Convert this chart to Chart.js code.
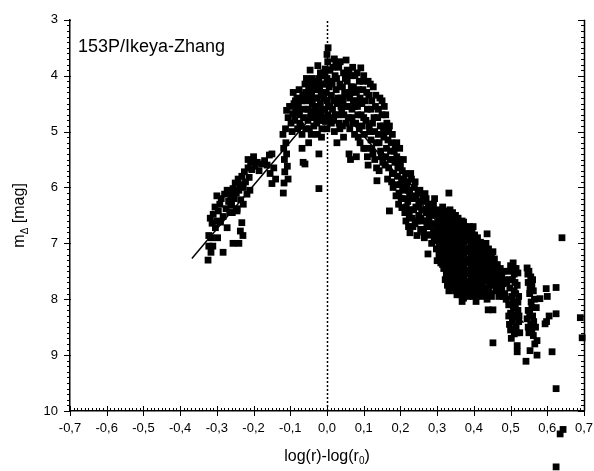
<!DOCTYPE html>
<html>
<head>
<meta charset="utf-8">
<script src="https://cdn.jsdelivr.net/npm/chart.js@4.4.1/dist/chart.umd.min.js"></script>
<style>
  html, body { margin: 0; padding: 0; background: #fff; }
  #wrap { width: 594px; height: 471px; position: relative; }
</style>
</head>
<body>
<div id="wrap"><canvas id="grafico"></canvas></div>
<script>
// Observaciones [log(r)-log(r0), m_delta]
const alaIzq = [
  [-0.324, 7.30], [-0.316, 7.16], [-0.322, 7.05], [-0.311, 7.05], [-0.322, 6.86], [-0.313, 6.64],
  [-0.318, 6.55], [-0.310, 6.48], [-0.304, 6.72], [-0.298, 6.90], [-0.283, 7.16], [-0.256, 7.00],
  [-0.240, 7.00], [-0.229, 6.86], [-0.232, 6.63], [-0.236, 6.78], [-0.305, 6.35], [-0.300, 6.60],
  [-0.315, 6.90], [-0.296, 6.42], [-0.292, 6.30], [-0.288, 6.20], [-0.283, 6.52], [-0.279, 6.12],
  [-0.275, 6.38], [-0.272, 6.05], [-0.268, 6.25], [-0.265, 6.45], [-0.262, 6.15], [-0.260, 6.32],
  [-0.256, 6.02], [-0.253, 6.20], [-0.250, 5.92], [-0.247, 6.10], [-0.245, 6.38], [-0.242, 5.85],
  [-0.240, 6.05], [-0.237, 5.95], [-0.235, 6.22], [-0.232, 5.80], [-0.228, 6.00], [-0.225, 5.72],
  [-0.222, 5.90], [-0.218, 6.12], [-0.215, 5.65], [-0.212, 5.82], [-0.208, 5.55], [-0.205, 5.68],
  [-0.200, 5.45], [-0.196, 5.62], [-0.190, 5.55], [-0.185, 5.70], [-0.178, 5.58], [-0.170, 5.52],
  [-0.163, 5.60], [-0.157, 5.42], [-0.150, 5.40], [-0.155, 5.75], [-0.150, 5.93], [-0.145, 5.65],
  [-0.140, 5.85], [-0.265, 6.10], [-0.262, 6.30], [-0.258, 6.45], [-0.245, 6.42], [-0.215, 5.50],
  [-0.290, 6.62], [-0.272, 6.72], [-0.300, 6.15], [-0.228, 6.30], [-0.210, 6.05]
];

const pico = [
  [-0.120, 5.05], [-0.118, 5.30], [-0.116, 5.50], [-0.115, 5.72], [-0.117, 5.92], [-0.119, 6.10],
  [-0.112, 5.20], [-0.110, 5.40], [-0.108, 5.62], [-0.106, 5.85], [-0.113, 4.95], [-0.110, 4.62],
  [-0.106, 4.75], [-0.102, 4.55], [-0.098, 4.85], [-0.095, 5.00], [-0.093, 4.68], [-0.090, 4.50],
  [-0.088, 4.80], [-0.085, 4.62], [-0.082, 4.40], [-0.078, 4.55], [-0.075, 4.70], [-0.072, 4.90],
  [-0.068, 5.30], [-0.068, 5.05], [-0.065, 5.55], [-0.060, 5.58], [-0.062, 4.60], [-0.058, 4.30],
  [-0.055, 4.45], [-0.052, 4.80], [-0.050, 5.20], [-0.052, 4.60], [-0.048, 4.95], [-0.045, 4.15],
  [-0.060, 4.15], [-0.046, 3.90], [-0.042, 4.30], [-0.040, 4.50], [-0.038, 4.70], [-0.036, 4.90],
  [-0.035, 4.10], [-0.032, 4.40], [-0.030, 4.60], [-0.028, 4.85], [-0.026, 5.05], [-0.025, 3.82],
  [-0.022, 4.05], [-0.020, 4.25], [-0.018, 4.50], [-0.016, 4.70], [-0.014, 4.95], [-0.022, 5.40],
  [-0.022, 6.02], [-0.012, 4.15], [-0.010, 3.95], [-0.008, 4.40], [-0.006, 4.60], [-0.004, 4.82],
  [-0.002, 4.30], [0.000, 4.05], [0.003, 3.50], [0.000, 3.62], [0.002, 3.75], [0.004, 4.55],
  [0.006, 4.20], [-0.015, 5.10], [-0.005, 3.88], [-0.040, 4.05], [-0.030, 4.25], [-0.012, 4.35],
  [-0.008, 4.75], [0.000, 4.95], [-0.070, 4.45], [-0.080, 4.95], [-0.044, 4.65], [-0.020, 4.80],
  [0.008, 3.90], [0.010, 4.10], [0.012, 4.35], [0.015, 4.60], [0.018, 4.80], [0.020, 3.70],
  [0.022, 4.00], [0.025, 4.25], [0.027, 5.20], [0.028, 4.50], [0.030, 4.70], [0.032, 3.85],
  [0.035, 4.15], [0.038, 4.40], [0.040, 4.62], [0.042, 4.90], [0.045, 3.95], [0.048, 4.30],
  [0.050, 4.55], [0.052, 3.72], [0.055, 4.10], [0.058, 4.75], [0.060, 5.40], [0.062, 4.40],
  [0.064, 5.50], [0.066, 4.00], [0.068, 4.60], [0.070, 4.85], [0.072, 4.20], [0.075, 5.05],
  [0.078, 4.45], [0.080, 5.45], [0.082, 3.95], [0.084, 4.70], [0.086, 4.25], [0.088, 4.95],
  [0.090, 5.20], [0.092, 3.86], [0.095, 4.50], [0.098, 4.10], [0.100, 4.75], [0.012, 4.85],
  [0.020, 5.00], [0.035, 4.95], [0.045, 5.10], [0.055, 3.90], [0.065, 4.30], [0.075, 4.55]
];

const picoDenso = [
  [-0.092, 4.30], [-0.086, 4.45], [-0.080, 4.65], [-0.076, 4.25], [-0.074, 4.85], [-0.066, 4.35],
  [-0.064, 4.75], [-0.058, 4.95], [-0.056, 4.05], [-0.050, 4.25], [-0.048, 4.40], [-0.046, 4.75],
  [-0.043, 5.05], [-0.038, 4.20], [-0.034, 4.55], [-0.033, 4.75], [-0.028, 4.15], [-0.026, 4.40],
  [-0.024, 4.65], [-0.018, 3.95], [-0.016, 4.35], [-0.012, 4.60], [-0.010, 4.80], [-0.006, 4.00],
  [-0.004, 4.15], [0.000, 4.45], [0.002, 4.70], [0.004, 3.90], [0.008, 4.55], [0.010, 4.75],
  [0.014, 4.15], [0.016, 3.85], [0.018, 4.45], [0.022, 4.70], [0.024, 3.80], [0.026, 4.05],
  [0.030, 4.40], [0.033, 4.85], [0.036, 3.75], [0.038, 4.55], [0.042, 4.20], [0.044, 4.45],
  [0.046, 4.70], [0.050, 4.05], [0.052, 4.85], [0.055, 4.35], [0.058, 4.55], [0.060, 3.95],
  [0.062, 4.95], [0.066, 4.20], [0.068, 4.75], [0.070, 3.85], [0.072, 4.45], [0.076, 4.00],
  [0.078, 4.85], [0.080, 4.30], [0.083, 4.55], [0.085, 5.10], [0.088, 4.10], [0.090, 4.40],
  [0.093, 4.70], [0.096, 4.90], [0.098, 4.25], [0.100, 5.30], [0.100, 4.00]
];

const alaDer = [
  [0.102, 5.05], [0.105, 5.30], [0.108, 4.30], [0.110, 4.60], [0.112, 5.60], [0.115, 4.90],
  [0.118, 4.15], [0.120, 5.15], [0.122, 4.45], [0.125, 5.40], [0.128, 4.75], [0.130, 5.00],
  [0.133, 4.35], [0.135, 5.65], [0.136, 5.88], [0.140, 4.60], [0.142, 5.20], [0.145, 4.90],
  [0.148, 5.45], [0.150, 4.45], [0.153, 4.90], [0.155, 5.10], [0.158, 5.60], [0.160, 4.70],
  [0.162, 5.30], [0.165, 5.85], [0.168, 5.00], [0.170, 6.42], [0.172, 5.50], [0.175, 5.20],
  [0.178, 5.75], [0.180, 6.00], [0.183, 5.35], [0.185, 5.55], [0.188, 6.15], [0.190, 5.20],
  [0.192, 5.80], [0.195, 6.30], [0.197, 5.50], [0.200, 5.95], [0.202, 6.20], [0.204, 6.36],
  [0.205, 5.70], [0.208, 6.05], [0.210, 5.85], [0.212, 6.45], [0.215, 6.60], [0.218, 5.95],
  [0.220, 6.25], [0.222, 6.70], [0.225, 6.10], [0.226, 6.81], [0.228, 6.40], [0.230, 5.85],
  [0.232, 6.55], [0.235, 6.20], [0.238, 6.00], [0.240, 6.65], [0.242, 6.35], [0.245, 6.86],
  [0.248, 6.10], [0.250, 6.50], [0.252, 6.25], [0.255, 6.75], [0.258, 6.40], [0.260, 6.60],
  [0.262, 6.15], [0.265, 6.90], [0.267, 6.11], [0.270, 6.45], [0.272, 6.70], [0.275, 7.19],
  [0.276, 6.30], [0.278, 6.55], [0.280, 6.85], [0.283, 6.40], [0.285, 7.00], [0.288, 6.65],
  [0.290, 6.30], [0.292, 6.90], [0.295, 6.50], [0.298, 7.10], [0.300, 7.31], [0.300, 6.75],
  [0.104, 4.45], [0.106, 4.80], [0.110, 5.45], [0.112, 4.10], [0.114, 4.35], [0.116, 5.00],
  [0.120, 4.60], [0.122, 5.30], [0.124, 4.85], [0.126, 4.20], [0.130, 5.50], [0.132, 4.55],
  [0.134, 5.20], [0.138, 4.75], [0.140, 5.05], [0.142, 5.70], [0.144, 4.40], [0.146, 5.35],
  [0.150, 4.70], [0.152, 5.55], [0.154, 5.00], [0.156, 4.55], [0.160, 5.45], [0.163, 4.85],
  [0.166, 5.15], [0.168, 5.65], [0.170, 4.90], [0.173, 5.35], [0.176, 5.90], [0.178, 5.05],
  [0.180, 5.50], [0.182, 5.75], [0.186, 5.25], [0.188, 5.95], [0.190, 5.45], [0.193, 5.65],
  [0.196, 6.10], [0.198, 5.30], [0.200, 5.60], [0.203, 5.85], [0.206, 6.00], [0.208, 5.50],
  [0.212, 6.20], [0.214, 5.75], [0.216, 6.35], [0.220, 5.90], [0.222, 6.05], [0.224, 6.50],
  [0.228, 5.75], [0.230, 6.20], [0.234, 6.70], [0.236, 6.40], [0.240, 5.90], [0.243, 6.15],
  [0.246, 6.60], [0.250, 6.30], [0.253, 6.05], [0.256, 6.55], [0.260, 6.25], [0.263, 6.80],
  [0.266, 6.40], [0.270, 6.20], [0.273, 6.60], [0.276, 6.85], [0.280, 6.30], [0.282, 6.70],
  [0.286, 6.45], [0.290, 6.80], [0.293, 6.20], [0.296, 6.65], [0.300, 6.40], [0.300, 6.95]
];

const cola = [
  [0.305, 6.60], [0.305, 6.85], [0.305, 7.05], [0.305, 7.20],
  [0.310, 6.45], [0.310, 6.70], [0.310, 6.95], [0.310, 7.15], [0.310, 7.35],
  [0.318, 6.55], [0.318, 6.80], [0.318, 7.00], [0.318, 7.25], [0.318, 7.45],
  [0.325, 6.50], [0.325, 6.65], [0.325, 6.90], [0.325, 7.10], [0.325, 7.30], [0.325, 7.55],
  [0.332, 6.10], [0.332, 6.60], [0.332, 6.75], [0.332, 7.00], [0.332, 7.20], [0.332, 7.40], [0.332, 7.65], [0.332, 7.85],
  [0.338, 6.50], [0.338, 6.70], [0.338, 6.90], [0.338, 7.10], [0.338, 7.30], [0.338, 7.50], [0.338, 7.70],
  [0.345, 6.55], [0.345, 6.80], [0.345, 7.00], [0.345, 7.20], [0.345, 7.45], [0.345, 7.60], [0.345, 7.80],
  [0.354, 6.60], [0.354, 6.75], [0.354, 6.95], [0.354, 7.15], [0.354, 7.35], [0.354, 7.55], [0.354, 7.75], [0.354, 7.92],
  [0.360, 6.65], [0.360, 6.90], [0.360, 7.05], [0.360, 7.25], [0.360, 7.45], [0.360, 7.65], [0.360, 7.85],
  [0.368, 6.60], [0.368, 6.80], [0.368, 7.00], [0.368, 7.20], [0.368, 7.40], [0.368, 7.60], [0.368, 7.80], [0.368, 8.04],
  [0.376, 6.70], [0.376, 6.85], [0.376, 7.10], [0.376, 7.30], [0.376, 7.50], [0.376, 7.70], [0.376, 7.90],
  [0.384, 6.75], [0.384, 6.95], [0.384, 7.15], [0.384, 7.35], [0.384, 7.55], [0.384, 7.75], [0.384, 7.95],
  [0.392, 6.80], [0.392, 7.00], [0.392, 7.20], [0.392, 7.40], [0.392, 7.60], [0.392, 7.80],
  [0.398, 6.70], [0.398, 6.90], [0.398, 7.10], [0.398, 7.30], [0.398, 7.50], [0.398, 7.70], [0.398, 7.95],
  [0.406, 6.95], [0.406, 7.15], [0.406, 7.35], [0.406, 7.55], [0.406, 7.75], [0.406, 8.04],
  [0.414, 7.00], [0.414, 7.20], [0.414, 7.45], [0.414, 7.65], [0.414, 7.85],
  [0.422, 7.05], [0.422, 7.25], [0.422, 7.50], [0.422, 7.70], [0.422, 7.95],
  [0.430, 7.10], [0.430, 7.30], [0.430, 7.55], [0.430, 7.80],
  [0.436, 6.83], [0.436, 7.20], [0.436, 7.40], [0.436, 7.60], [0.436, 8.00],
  [0.444, 7.25], [0.444, 7.45], [0.444, 7.70], [0.444, 7.90],
  [0.452, 7.15], [0.452, 7.35], [0.452, 7.60], [0.452, 8.19], [0.452, 8.78], [0.439, 8.19],
  [0.460, 7.40], [0.460, 7.65], [0.460, 7.85], [0.468, 7.50], [0.468, 7.75], [0.468, 7.95],
  [0.476, 7.60], [0.476, 7.80], [0.484, 7.65], [0.484, 7.90]
];

const colaDensa = [
  [0.308, 6.55], [0.308, 6.78], [0.308, 7.00], [0.308, 7.28],
  [0.315, 6.35], [0.315, 6.62], [0.315, 6.88], [0.315, 7.10], [0.315, 7.38],
  [0.322, 6.42], [0.322, 6.75], [0.322, 7.00], [0.322, 7.20], [0.322, 7.42], [0.322, 7.65],
  [0.328, 6.55], [0.328, 6.82], [0.328, 7.05], [0.328, 7.25], [0.328, 7.48], [0.328, 7.75],
  [0.335, 6.40], [0.335, 6.65], [0.335, 6.88], [0.335, 7.10], [0.335, 7.30], [0.335, 7.55], [0.335, 7.78],
  [0.342, 6.45], [0.342, 6.62], [0.342, 6.90], [0.342, 7.12], [0.342, 7.35], [0.342, 7.55], [0.342, 7.72],
  [0.350, 6.50], [0.350, 6.70], [0.350, 6.90], [0.350, 7.08], [0.350, 7.28], [0.350, 7.50], [0.350, 7.68], [0.350, 7.85],
  [0.357, 6.55], [0.357, 6.80], [0.357, 7.00], [0.357, 7.20], [0.357, 7.40], [0.357, 7.60], [0.357, 7.80],
  [0.364, 6.70], [0.364, 6.92], [0.364, 7.12], [0.364, 7.32], [0.364, 7.52], [0.364, 7.72], [0.364, 7.92],
  [0.372, 6.62], [0.372, 6.78], [0.372, 6.98], [0.372, 7.18], [0.372, 7.38], [0.372, 7.58], [0.372, 7.78], [0.372, 7.98],
  [0.380, 6.72], [0.380, 6.92], [0.380, 7.12], [0.380, 7.32], [0.380, 7.52], [0.380, 7.72], [0.380, 7.85],
  [0.388, 6.70], [0.388, 6.88], [0.388, 7.08], [0.388, 7.28], [0.388, 7.48], [0.388, 7.68], [0.388, 7.88],
  [0.395, 6.82], [0.395, 7.05], [0.395, 7.25], [0.395, 7.45], [0.395, 7.65], [0.395, 7.85],
  [0.402, 6.85], [0.402, 7.05], [0.402, 7.22], [0.402, 7.42], [0.402, 7.62], [0.402, 7.82],
  [0.410, 6.90], [0.410, 7.10], [0.410, 7.30], [0.410, 7.50], [0.410, 7.70], [0.410, 7.92],
  [0.418, 6.98], [0.418, 7.15], [0.418, 7.35], [0.418, 7.58], [0.418, 7.78],
  [0.426, 7.02], [0.426, 7.18], [0.426, 7.40], [0.426, 7.62], [0.426, 7.85],
  [0.433, 7.00], [0.433, 7.22], [0.433, 7.45], [0.433, 7.68], [0.433, 7.90],
  [0.440, 7.10], [0.440, 7.35], [0.440, 7.55], [0.440, 7.80],
  [0.448, 7.20], [0.448, 7.50], [0.448, 7.75], [0.448, 7.95],
  [0.456, 7.28], [0.456, 7.50], [0.456, 7.72], [0.464, 7.38], [0.464, 7.60], [0.464, 7.80],
  [0.472, 7.45], [0.472, 7.68], [0.472, 7.88], [0.480, 7.50], [0.480, 7.72], [0.480, 7.95]
];

const extremo = [
  [0.495, 7.50], [0.500, 7.40], [0.507, 7.35], [0.510, 7.55], [0.515, 7.45], [0.520, 7.53],
  [0.512, 7.70], [0.505, 7.65], [0.498, 7.80], [0.503, 7.95], [0.510, 7.85], [0.518, 7.75],
  [0.522, 7.95], [0.490, 7.70], [0.488, 8.00], [0.495, 8.10], [0.500, 8.25], [0.505, 8.40],
  [0.500, 8.55], [0.508, 8.15], [0.512, 8.30], [0.515, 8.50], [0.510, 8.62], [0.520, 8.20],
  [0.522, 8.40], [0.525, 8.60], [0.518, 8.83], [0.518, 8.94], [0.497, 8.45], [0.545, 7.44],
  [0.550, 7.50], [0.555, 7.60], [0.548, 7.70], [0.558, 7.75], [0.562, 7.85], [0.552, 7.90],
  [0.565, 8.00], [0.556, 8.05], [0.570, 8.15], [0.548, 8.20], [0.560, 8.30], [0.545, 8.35],
  [0.555, 8.45], [0.568, 8.50], [0.550, 8.60], [0.562, 8.65], [0.572, 8.74], [0.553, 8.92],
  [0.572, 9.00], [0.542, 9.11], [0.580, 7.99], [0.597, 7.81], [0.600, 7.95], [0.605, 8.30],
  [0.594, 8.44], [0.598, 8.40], [0.613, 8.94], [0.624, 7.79], [0.624, 8.26], [0.624, 9.60],
  [0.640, 6.90], [0.690, 8.33], [0.695, 8.69], [0.643, 10.33], [0.635, 10.41], [0.624, 11.00],
  [0.495, 8.30], [0.502, 8.70], [0.506, 8.05], [0.513, 8.15], [0.517, 8.60], [0.523, 8.30],
  [0.498, 7.65], [0.508, 7.45], [0.514, 7.90], [0.520, 8.05], [0.547, 7.55], [0.553, 7.80],
  [0.558, 8.15], [0.563, 8.40], [0.552, 8.25], [0.558, 8.55], [0.566, 8.80], [0.548, 8.50],
  [0.560, 7.65]
];

// Rectas de ajuste a cada lado del perihelio
const ajusteIzq = [[-0.368, 7.27], [-0.02, 4.56]];
const ajusteDer = [[0.0, 4.31], [0.535, 8.42]];

const xTicks = [-0.7, -0.6, -0.5, -0.4, -0.3, -0.2, -0.1, 0.0, 0.1, 0.2, 0.3, 0.4, 0.5, 0.6, 0.7];
const yTicks = [3, 4, 5, 6, 7, 8, 9, 10];

const FUENTE = "'Liberation Sans', Arial, sans-serif";

function fmtComa(v) {
  if (Math.abs(v) < 1e-9) v = 0;
  return v.toFixed(1).replace('.', ',');
}

function aPuntos(lista) {
  return lista.map((p) => ({ x: p[0], y: p[1] }));
}

const todos = [].concat(alaIzq, pico, picoDenso, alaDer, cola, colaDensa, extremo);

// Ejes al estilo Origin: marcas mayores y menores, eje derecho espejo
const ejesOrigin = {
  id: "ejesOrigin",
  beforeDatasetsDraw(chart) {
    const { ctx, chartArea: a, scales } = chart;
    const x0 = Math.round(scales.x.getPixelForValue(0)) + 0.5;
    ctx.save();
    ctx.strokeStyle = "#000";
    ctx.lineWidth = 1.5;
    ctx.setLineDash([2, 2]);
    ctx.beginPath();
    ctx.moveTo(x0, a.bottom);
    ctx.lineTo(x0, a.top);
    ctx.stroke();
    ctx.restore();
  },
  afterDatasetsDraw(chart) {
    // los puntos que caen fuera del area (bajo el eje x) tambien se dibujan
    const { ctx, chartArea: a } = chart;
    const meta = chart.getDatasetMeta(2);
    const todoLienzo = { left: 0, top: 0, right: chart.width, bottom: chart.height };
    ctx.save();
    meta.data.forEach((el) => {
      if (el.y > a.bottom || el.y < a.top || el.x > a.right) el.draw(ctx, todoLienzo);
    });
    ctx.restore();
  },
  afterDraw(chart) {
    const { ctx, chartArea: a, scales } = chart;
    const sx = scales.x, sy = scales.y;
    ctx.save();
    ctx.strokeStyle = "#000";
    ctx.lineWidth = 1;
    ctx.beginPath();
    // marcas del eje x
    for (let i = -70; i <= 70; i++) {
      const px = Math.round(sx.getPixelForValue(i / 100)) + 0.5;
      const mayor = i % 10 === 0;
      ctx.moveTo(px, a.bottom + (mayor ? 5 : 0));
      ctx.lineTo(px, a.bottom - (mayor ? 5 : 3));
    }
    // marcas de los ejes y (izquierdo y derecho)
    for (let i = 30; i <= 100; i++) {
      const py = Math.round(sy.getPixelForValue(i / 10)) + 0.5;
      const mayor = i % 10 === 0;
      ctx.moveTo(a.left - (mayor ? 6 : 3), py);
      ctx.lineTo(a.left + (mayor ? 1 : 0), py);
      ctx.moveTo(a.right, py);
      ctx.lineTo(a.right - (mayor ? 6 : 3), py);
    }
    ctx.stroke();
    // eje derecho
    ctx.lineWidth = 1.5;
    ctx.beginPath();
    ctx.moveTo(Math.round(a.right) + 0.5, a.top);
    ctx.lineTo(Math.round(a.right) + 0.5, a.bottom);
    ctx.stroke();

    // textos
    ctx.fillStyle = "#000";
    ctx.font = "18px " + FUENTE;
    ctx.textBaseline = "alphabetic";
    ctx.textAlign = "left";
    ctx.fillText("153P/Ikeya-Zhang", a.left + 8, a.top + 32);

    // titulo eje x: log(r)-log(r0)
    const t1 = "log(r)-log(r";
    const sub = "0";
    const t2 = ")";
    ctx.font = "16px " + FUENTE;
    const w1 = ctx.measureText(t1).width;
    const w3 = ctx.measureText(t2).width;
    ctx.font = "10px " + FUENTE;
    const w2 = ctx.measureText(sub).width;
    let xx = (a.left + a.right) / 2 - (w1 + w2 + w3) / 2;
    const yb = 461;
    ctx.font = "16px " + FUENTE;
    ctx.fillText(t1, xx, yb);
    xx += w1;
    ctx.font = "10px " + FUENTE;
    ctx.fillText(sub, xx, yb + 3);
    xx += w2;
    ctx.font = "16px " + FUENTE;
    ctx.fillText(t2, xx, yb);

    // titulo eje y: m_delta [mag]
    ctx.translate(24, (a.top + a.bottom) / 2);
    ctx.rotate(-Math.PI / 2);
    ctx.font = "16px " + FUENTE;
    const m = "m";
    const d = "\u0394";
    const r = " [mag]";
    const wm = ctx.measureText(m).width;
    const wr = ctx.measureText(r).width;
    ctx.font = "10px " + FUENTE;
    const wd = ctx.measureText(d).width;
    let yy = -(wm + wd + wr) / 2;
    ctx.font = "16px " + FUENTE;
    ctx.fillText(m, yy, 0);
    yy += wm;
    ctx.font = "10px " + FUENTE;
    ctx.fillText(d, yy, 4);
    yy += wd;
    ctx.font = "16px " + FUENTE;
    ctx.fillText(r, yy, 0);
    ctx.restore();
  },
};

const ctx = document.getElementById("grafico");

new Chart(ctx, {
  type: "scatter",
  data: {
    datasets: [
      {
        label: "ajuste izq",
        data: aPuntos(ajusteIzq),
        showLine: true,
        borderColor: "#000",
        borderWidth: 1.5,
        pointRadius: 0,
      },
      {
        label: "ajuste der",
        data: aPuntos(ajusteDer),
        showLine: true,
        borderColor: "#000",
        borderWidth: 1.5,
        pointRadius: 0,
      },
      {
        label: "m",
        data: aPuntos(todos),
        pointStyle: "rect",
        pointRadius: 4.8,
        borderWidth: 0,
        backgroundColor: "#000",
        clip: false,
      },
    ],
  },
  options: {
    responsive: true,
    maintainAspectRatio: false,
    animation: false,
    devicePixelRatio: 1,
    layout: { padding: { top: 19, right: 10, left: 0, bottom: 0 } },
    plugins: { legend: { display: false }, tooltip: { enabled: false } },
    scales: {
      x: {
        type: "linear",
        min: -0.7,
        max: 0.7,
        afterBuildTicks: (s) => { s.ticks = xTicks.map((v) => ({ value: v })); },
        afterFit: (s) => { s.height = 60; s.paddingRight = 0; s.paddingLeft = 0; },
        grid: { display: false, drawTicks: false },
        border: { display: true, color: "#000", width: 1.5 },
        ticks: {
          color: "#000",
          font: { family: FUENTE, size: 13 },
          padding: 10,
          maxRotation: 0,
          autoSkip: false,
          callback: (v) => fmtComa(v),
        },
      },
      y: {
        type: "linear",
        reverse: true,
        min: 3,
        max: 10,
        afterBuildTicks: (s) => { s.ticks = yTicks.map((v) => ({ value: v })); },
        afterFit: (s) => { s.width = 70; },
        grid: { display: false, drawTicks: false },
        border: { display: true, color: "#000", width: 1.5 },
        ticks: {
          color: "#000",
          font: { family: FUENTE, size: 13 },
          padding: 12,
          autoSkip: false,
        },
      },
    },
  },
  plugins: [ejesOrigin],
});
</script>
</body>
</html>
